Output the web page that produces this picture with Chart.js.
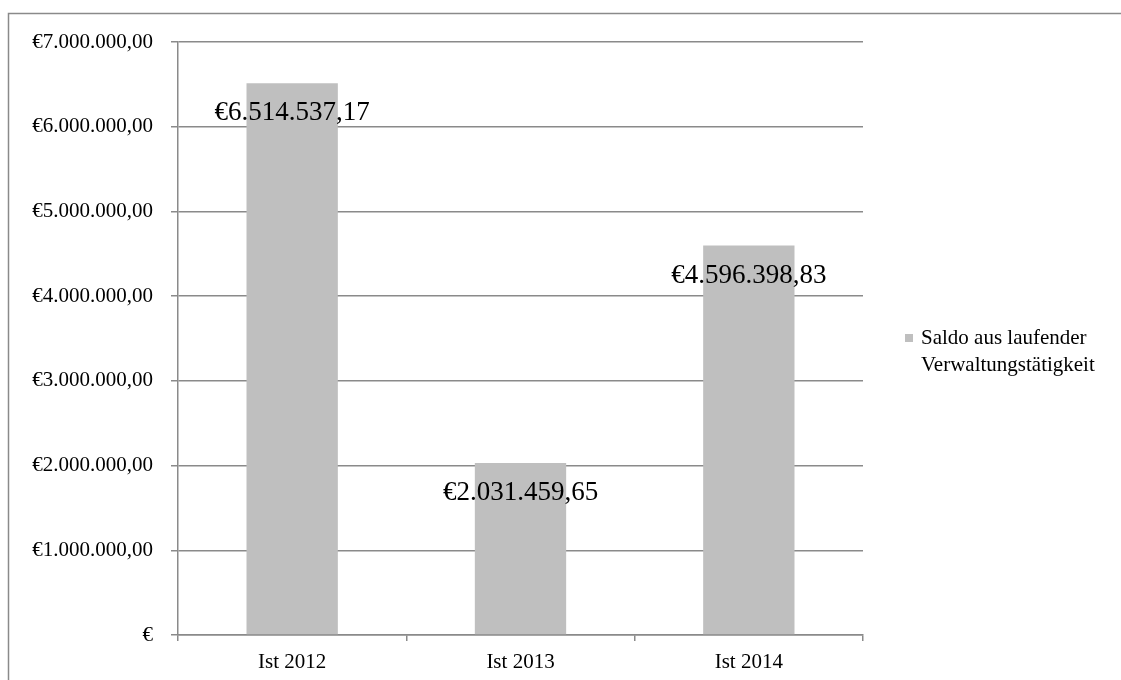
<!DOCTYPE html>
<html>
<head>
<meta charset="utf-8">
<title>Saldo aus laufender Verwaltungstätigkeit</title>
<script src="https://cdn.jsdelivr.net/npm/chart.js@4.4.1/dist/chart.umd.min.js"></script>
<style>
  html, body { margin: 0; padding: 0; background: #fff; }
  #wrap { width: 1121px; height: 680px; position: relative; }
</style>
</head>
<body>
<div id="wrap"><canvas id="saldo"></canvas></div>
<script>
const years = ["Ist 2012", "Ist 2013", "Ist 2014"];
const saldo = [6514537.17, 2031459.65, 4596398.83];
const legendLines = ["Saldo aus laufender", "Verwaltungstätigkeit"];
const yMax = 7000000;
const yStep = 1000000;

const FONT = "'Liberation Serif', 'Times New Roman', serif";
const BAR = "#bfbfbf";
const LINE = "#8a8a8a";

const euro = new Intl.NumberFormat("de-DE", { minimumFractionDigits: 2, maximumFractionDigits: 2 });
const fmt = (v) => (v === 0 ? "€" : "€" + euro.format(v));

// Rahmen um die gesamte Grafik
const frame = {
    id: "frame",
    beforeDraw(chart) {
        const ctx = chart.ctx;
        ctx.save();
        ctx.strokeStyle = LINE;
        ctx.lineWidth = 1.5;
        ctx.strokeRect(8.5, 13.5, 1300, 900);
        ctx.restore();
    },
};

// Werte als Beschriftung unter der Oberkante der Balken
const valueLabels = {
    id: "valueLabels",
    afterDatasetsDraw(chart) {
        const ctx = chart.ctx;
        const meta = chart.getDatasetMeta(0);
        ctx.save();
        ctx.font = `27px ${FONT}`;
        ctx.fillStyle = "#000";
        ctx.textAlign = "center";
        ctx.textBaseline = "middle";
        meta.data.forEach((bar, i) => {
            ctx.fillText(fmt(saldo[i]), bar.x, bar.y + 30);
        });
        ctx.restore();
    },
};

// Legende rechts neben dem Diagramm, zweizeilig
const sideLegend = {
    id: "sideLegend",
    afterDraw(chart) {
        const ctx = chart.ctx;
        const x = chart.chartArea.right + 42;
        const y = 338;
        ctx.save();
        ctx.fillStyle = BAR;
        ctx.fillRect(x, y - 4, 8, 8);
        ctx.fillStyle = "#000";
        ctx.font = `21px ${FONT}`;
        ctx.textBaseline = "middle";
        legendLines.forEach((line, i) => {
            ctx.fillText(line, x + 16, y + i * 27);
        });
        ctx.restore();
    },
};

new Chart(document.getElementById("saldo"), {
    type: "bar",
    data: {
        labels: years,
        datasets: [
            {
                label: legendLines.join(" "),
                data: saldo,
                backgroundColor: BAR,
                borderWidth: 0,
                categoryPercentage: 1,
                barPercentage: 0.4,
            },
        ],
    },
    options: {
        responsive: true,
        maintainAspectRatio: false,
        animation: false,
        layout: { padding: { left: 0, right: 258, top: 42, bottom: 0 } },
        plugins: {
            legend: { display: false },
            tooltip: { enabled: false },
        },
        scales: {
            x: {
                afterFit: (scale) => { scale.height = 45; },
                grid: {
                    offset: true,
                    drawOnChartArea: false,
                    drawTicks: true,
                    tickLength: 6,
                    color: LINE,
                    lineWidth: 1.5,
                },
                border: { color: LINE, width: 1.5 },
                ticks: {
                    padding: 9,
                    color: "#000",
                    font: { family: FONT, size: 21 },
                },
            },
            y: {
                min: 0,
                max: yMax,
                afterFit: (scale) => { scale.width = 178; },
                grid: {
                    color: LINE,
                    lineWidth: 1.5,
                    drawTicks: true,
                    tickLength: 7,
                },
                border: { color: LINE, width: 1.5 },
                ticks: {
                    stepSize: yStep,
                    padding: 18,
                    color: "#000",
                    font: { family: FONT, size: 21 },
                    callback: (v) => fmt(v),
                },
            },
        },
    },
    plugins: [frame, valueLabels, sideLegend],
});
</script>
</body>
</html>
